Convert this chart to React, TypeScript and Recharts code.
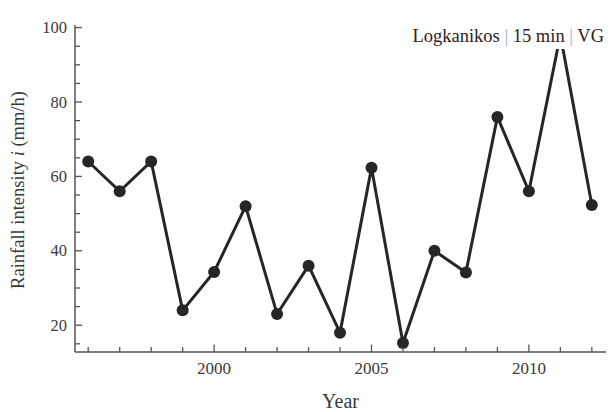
import React from 'react';
import { LineChart, Line, XAxis, YAxis, Label } from 'recharts';

const YEARS = [1996, 1997, 1998, 1999, 2000, 2001, 2002, 2003, 2004, 2005, 2006, 2007, 2008, 2009, 2010, 2011, 2012];
const INTENSITY = [64, 56, 64, 24, 34.3, 52, 23, 36, 18, 62.3, 15.2, 40, 34.2, 76, 56, 98, 52.3];
const X_TICKS = YEARS;
const X_LABELED = [2000, 2005, 2010];
const Y_TICKS = [15, 20, 25, 30, 35, 40, 45, 50, 55, 60, 65, 70, 75, 80, 85, 90, 95, 100];
const Y_LABELED = [20, 40, 60, 80, 100];

const data = YEARS.map((year, i) => ({ year, value: INTENSITY[i] }));

const FONT = '"Liberation Serif", "DejaVu Serif", serif';
const AXIS = '#555';
const TEXT = '#3a3a3a';

const XTick = (props: any) => {
  const { x, y, payload } = props;
  const major = X_LABELED.includes(payload.value);
  return (
    <g>
      <line x1={x} x2={x} y1={y} y2={y - (major ? 7.5 : 5)} stroke={AXIS} strokeWidth={1.3} />
      {major && (
        <text x={x} y={y + 22} textAnchor="middle" fontFamily={FONT} fontSize={17} fill={TEXT}>
          {payload.value}
        </text>
      )}
    </g>
  );
};

const YTick = (props: any) => {
  const { x, y, payload } = props;
  const major = Y_LABELED.includes(payload.value);
  return (
    <g>
      <line x1={x} x2={x + (major ? 7 : 5)} y1={y} y2={y} stroke={AXIS} strokeWidth={1.3} />
      {major && (
        <text x={x - 8} y={y + 5.5} textAnchor="end" fontFamily={FONT} fontSize={16.5} fill={TEXT}>
          {payload.value}
        </text>
      )}
    </g>
  );
};

const YTitle = () => (
  <text
    x={0}
    y={0}
    transform="translate(24,190) rotate(-90)"
    textAnchor="middle"
    fontFamily={FONT}
    fontSize={18.5}
    fill={TEXT}
  >
    Rainfall intensity <tspan fontStyle="italic">i</tspan> (mm/h)
  </text>
);

export default function App() {
  return (
    <div style={{ position: 'relative', width: 612, height: 412, background: '#fff' }}>
      <style>{`body{margin:0;background:#fff}`}</style>
      <LineChart
        width={612}
        height={412}
        data={data}
        margin={{ top: 25, right: 6, bottom: 0, left: 15 }}
      >
        <XAxis
          dataKey="year"
          type="number"
          domain={[1995.58, 2012.45]}
          ticks={X_TICKS}
          allowDataOverflow
          tickSize={0}
          tickMargin={0}
          tick={<XTick />}
          tickLine={false}
          axisLine={{ stroke: AXIS, strokeWidth: 1.5 }}
          interval={0}
          height={60}
        >
          <Label
            value="Year"
            position="insideBottom"
            offset={4}
            style={{ fontFamily: FONT, fontSize: 20, fill: TEXT }}
          />
        </XAxis>
        <YAxis
          type="number"
          domain={[12.8, 100.7]}
          ticks={Y_TICKS}
          allowDataOverflow
          tickSize={0}
          tickMargin={0}
          tick={<YTick />}
          tickLine={false}
          axisLine={{ stroke: AXIS, strokeWidth: 1.5 }}
          interval={0}
          width={60}
        >
          <Label content={<YTitle />} />
        </YAxis>
        <Line
          dataKey="value"
          stroke="#262626"
          strokeWidth={3}
          dot={{ r: 6, fill: '#262626', stroke: '#262626', strokeWidth: 0 }}
          isAnimationActive={false}
        />
      </LineChart>
      <div
        style={{
          position: 'absolute',
          left: 400,
          top: 23,
          width: 204,
          height: 26,
          background: '#fff',
          textAlign: 'right',
          fontFamily: FONT,
          fontSize: 18.5,
          lineHeight: '26px',
          color: '#2e2020',
          whiteSpace: 'nowrap',
        }}
      >
        Logkanikos <span style={{ color: '#8fb0d6' }}>|</span> 15 min{' '}
        <span style={{ color: '#8fb0d6' }}>|</span> VG
      </div>
    </div>
  );
}
